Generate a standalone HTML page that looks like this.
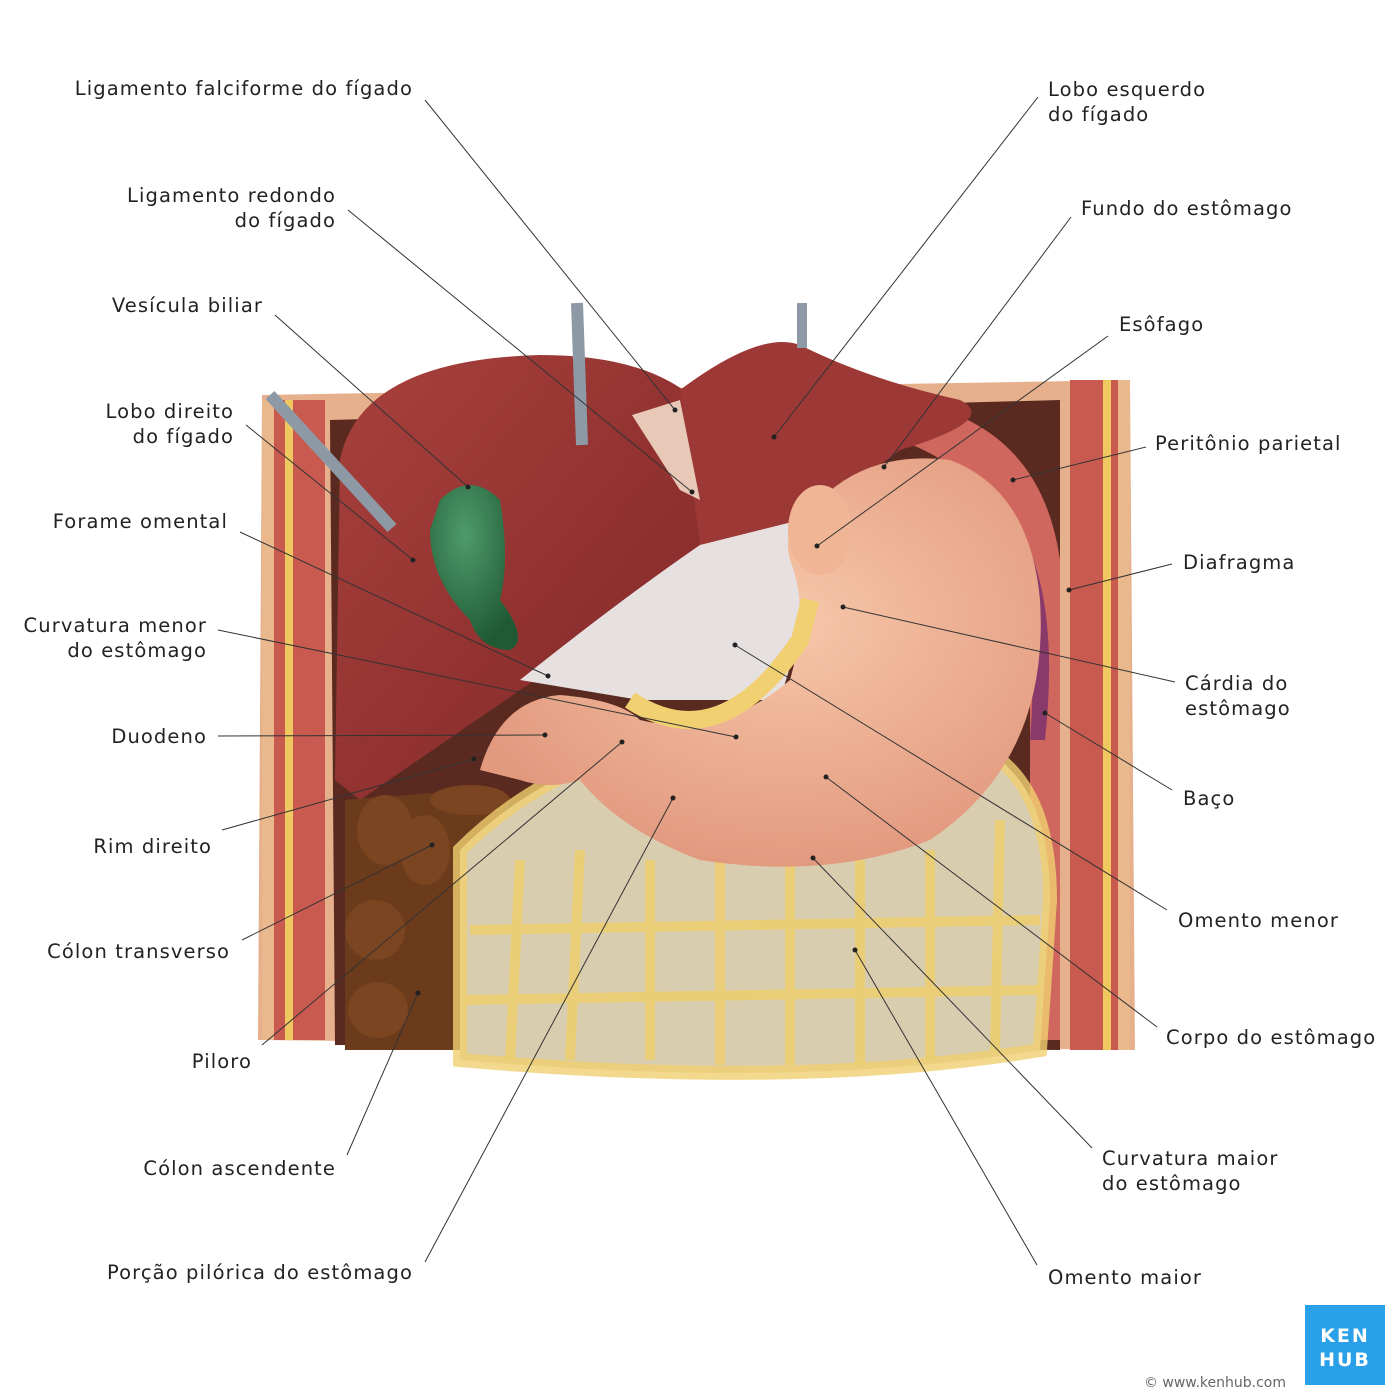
<!DOCTYPE html>
<html><head><meta charset="utf-8"><style>
html,body{margin:0;padding:0;background:#fff}
svg{display:block}
text{font-family:"DejaVu Sans","Liberation Sans",sans-serif;font-size:19.5px;letter-spacing:1.1px;fill:#222}
</style></head><body>
<svg width="1400" height="1400" viewBox="0 0 1400 1400" xmlns="http://www.w3.org/2000/svg">
<defs>
<radialGradient id="st" cx="0.55" cy="0.4" r="0.6"><stop offset="0" stop-color="#f7c7a9"/><stop offset="1" stop-color="#e29a7f"/></radialGradient>
<linearGradient id="lv" x1="0" y1="0" x2="1" y2="1"><stop offset="0" stop-color="#a8413d"/><stop offset="1" stop-color="#7e2626"/></linearGradient>
<radialGradient id="gb" cx="0.4" cy="0.3" r="0.7"><stop offset="0" stop-color="#4f9a6a"/><stop offset="1" stop-color="#1f5a35"/></radialGradient>
</defs>
<path d="M262,395 L1130,380 L1135,1050 L258,1040 Z" fill="#e7b08c"/>
<path d="M330,420 L1060,400 L1060,1050 L335,1045 Z" fill="#5a2a20"/>
<rect x="270" y="400" width="55" height="640" fill="#c85a50"/>
<rect x="262" y="400" width="12" height="640" fill="#e9b88c"/>
<rect x="1070" y="380" width="50" height="670" fill="#c85a50"/>
<rect x="1118" y="380" width="12" height="670" fill="#e9b88c"/>
<rect x="285" y="400" width="8" height="640" fill="#f0c860"/>
<rect x="1103" y="380" width="8" height="670" fill="#f0c860"/>
<path d="M900,400 Q1040,420 1060,560 L1060,1040 L1030,1040 L1030,600 Q1010,480 900,440 Z" fill="#d0675f"/>
<path d="M1020,530 Q1060,600 1045,740 L1030,740 Q1040,620 1010,540 Z" fill="#8a3a6a"/>
<path d="M340,460 Q360,360 540,355 Q640,355 690,395 L700,520 L720,560 L520,690 L360,800 L335,780 Z" fill="url(#lv)"/>
<path d="M680,390 Q760,330 800,345 Q870,380 960,400 Q1000,420 900,450 L760,555 L700,545 Z" fill="#9c3835"/>
<path d="M632,415 L680,400 L700,500 L680,490 Z" fill="#e8c9b8"/>
<line x1="270" y1="395" x2="392" y2="528" stroke="#8d9aa6" stroke-width="12"/>
<line x1="577" y1="303" x2="582" y2="445" stroke="#8d9aa6" stroke-width="12"/>
<line x1="802" y1="303" x2="802" y2="348" stroke="#8d9aa6" stroke-width="10"/>
<path d="M440,500 Q470,470 500,500 Q510,560 500,600 Q530,640 510,650 Q480,650 470,620 Q430,580 430,530 Z" fill="url(#gb)"/>
<path d="M520,680 Q620,600 700,545 L800,520 L810,600 L780,700 L640,700 Z" fill="#e6e1e0"/>
<path d="M345,800 L470,790 L520,820 L480,1050 L345,1050 Z" fill="#6b3b1c"/>
<ellipse cx="385" cy="830" rx="28" ry="35" fill="#7a4520"/>
<ellipse cx="425" cy="850" rx="25" ry="35" fill="#7a4520"/>
<ellipse cx="375" cy="930" rx="30" ry="30" fill="#7a4520"/>
<ellipse cx="378" cy="1010" rx="30" ry="28" fill="#7a4520"/>
<ellipse cx="470" cy="800" rx="40" ry="15" fill="#7a4520"/>
<path d="M460,850 Q520,790 600,760 L1000,760 Q1050,800 1050,900 L1040,1050 Q800,1090 460,1060 Z" fill="#d9cdb0"/>
<path d="M460,850 Q520,790 600,760 L1000,760 Q1050,800 1050,900 L1040,1050 Q800,1090 460,1060 Z" fill="none" stroke="#f0d070" stroke-width="14" opacity=".8"/>
<g stroke="#edcf6e" stroke-width="10" fill="none" opacity=".85">
<path d="M520,860 L510,1060"/><path d="M580,850 L570,1060"/><path d="M650,860 L650,1060"/><path d="M720,860 L720,1065"/><path d="M790,860 L790,1065"/><path d="M860,860 L860,1065"/><path d="M930,850 L930,1060"/><path d="M1000,820 L995,1050"/>
<path d="M470,930 L1040,920"/><path d="M465,1000 L1040,990"/>
</g>
<path d="M480,770 Q500,700 560,695 Q620,700 640,720 Q720,740 790,680 Q810,610 790,560 Q780,520 820,500 Q870,450 950,460 Q1030,490 1040,600 Q1050,760 930,840 Q830,880 700,860 Q620,830 580,780 Q550,790 520,780 Z" fill="url(#st)"/>
<ellipse cx="820" cy="530" rx="32" ry="45" fill="#efb595"/>
<path d="M630,700 Q720,760 800,640 L810,600" fill="none" stroke="#f0d070" stroke-width="18"/>
<g stroke="#333" stroke-width="1" fill="none">
<line x1="425" y1="100" x2="675" y2="410"/>
<line x1="348" y1="210" x2="692" y2="492"/>
<line x1="275" y1="315" x2="468" y2="487"/>
<line x1="246" y1="425" x2="413" y2="560"/>
<line x1="240" y1="532" x2="548" y2="676"/>
<line x1="218" y1="630" x2="736" y2="737"/>
<line x1="218" y1="736" x2="545" y2="735"/>
<line x1="222" y1="830" x2="474" y2="759"/>
<line x1="242" y1="940" x2="432" y2="845"/>
<line x1="262" y1="1045" x2="622" y2="742"/>
<line x1="347" y1="1155" x2="418" y2="993"/>
<line x1="425" y1="1262" x2="673" y2="798"/>
<line x1="1038" y1="97" x2="774" y2="437"/>
<line x1="1071" y1="217" x2="884" y2="467"/>
<line x1="1108" y1="336" x2="817" y2="546"/>
<line x1="1146" y1="447" x2="1013" y2="480"/>
<line x1="1172" y1="564" x2="1069" y2="590"/>
<line x1="1175" y1="682" x2="843" y2="607"/>
<line x1="1172" y1="790" x2="1045" y2="713"/>
<line x1="1167" y1="910" x2="735" y2="645"/>
<line x1="1157" y1="1027" x2="826" y2="777"/>
<line x1="1092" y1="1148" x2="813" y2="858"/>
<line x1="1037" y1="1265" x2="855" y2="950"/>
</g>
<g fill="#222">
<circle cx="675" cy="410" r="2.5"/><circle cx="692" cy="492" r="2.5"/><circle cx="468" cy="487" r="2.5"/><circle cx="413" cy="560" r="2.5"/><circle cx="548" cy="676" r="2.5"/><circle cx="736" cy="737" r="2.5"/><circle cx="545" cy="735" r="2.5"/><circle cx="474" cy="759" r="2.5"/><circle cx="432" cy="845" r="2.5"/><circle cx="622" cy="742" r="2.5"/><circle cx="418" cy="993" r="2.5"/><circle cx="673" cy="798" r="2.5"/><circle cx="774" cy="437" r="2.5"/><circle cx="884" cy="467" r="2.5"/><circle cx="817" cy="546" r="2.5"/><circle cx="1013" cy="480" r="2.5"/><circle cx="1069" cy="590" r="2.5"/><circle cx="843" cy="607" r="2.5"/><circle cx="1045" cy="713" r="2.5"/><circle cx="735" cy="645" r="2.5"/><circle cx="826" cy="777" r="2.5"/><circle cx="813" cy="858" r="2.5"/><circle cx="855" cy="950" r="2.5"/>
</g>
<g text-anchor="end">
<text x="413" y="95">Ligamento falciforme do fígado</text>
<text x="336" y="202">Ligamento redondo</text><text x="336" y="227">do fígado</text>
<text x="263" y="312">Vesícula biliar</text>
<text x="234" y="418">Lobo direito</text><text x="234" y="443">do fígado</text>
<text x="228" y="528">Forame omental</text>
<text x="207" y="632">Curvatura menor</text><text x="207" y="657">do estômago</text>
<text x="207" y="743">Duodeno</text>
<text x="212" y="853">Rim direito</text>
<text x="230" y="958">Cólon transverso</text>
<text x="252" y="1068">Piloro</text>
<text x="336" y="1175">Cólon ascendente</text>
<text x="413" y="1279">Porção pilórica do estômago</text>
</g>
<g>
<text x="1048" y="96">Lobo esquerdo</text><text x="1048" y="121">do fígado</text>
<text x="1081" y="215">Fundo do estômago</text>
<text x="1119" y="331">Esôfago</text>
<text x="1155" y="450">Peritônio parietal</text>
<text x="1183" y="569">Diafragma</text>
<text x="1185" y="690">Cárdia do</text><text x="1185" y="715">estômago</text>
<text x="1183" y="805">Baço</text>
<text x="1178" y="927">Omento menor</text>
<text x="1166" y="1044">Corpo do estômago</text>
<text x="1102" y="1165">Curvatura maior</text><text x="1102" y="1190">do estômago</text>
<text x="1048" y="1284">Omento maior</text>
</g>
<rect x="1305" y="1305" width="80" height="80" fill="#2aa0e8"/>
<text x="1345" y="1342" text-anchor="middle" style="font-size:19px;fill:#fff;font-weight:bold;letter-spacing:2px">KEN</text>
<text x="1345" y="1366" text-anchor="middle" style="font-size:19px;fill:#fff;font-weight:bold;letter-spacing:2px">HUB</text>
<text x="1286" y="1387" text-anchor="end" style="font-size:14px;fill:#666;letter-spacing:0">© www.kenhub.com</text>
</svg>
</body></html>
